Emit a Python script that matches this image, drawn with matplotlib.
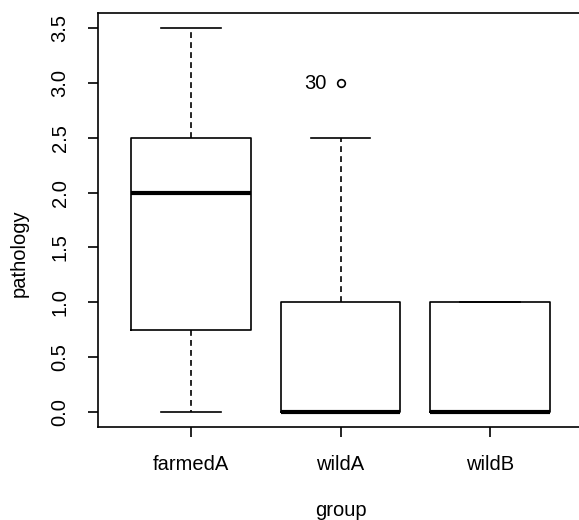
import matplotlib
matplotlib.use("Agg")
import matplotlib.pyplot as plt

plt.rcParams['font.family'] = ['Liberation Sans', 'DejaVu Sans']

groups = ["farmedA", "wildA", "wildB"]
whislo = [0.0, 0.0, 0.0]
q1 = [0.75, 0.0, 0.0]
med = [2.0, 0.0, 0.0]
q3 = [2.5, 1.0, 1.0]
whishi = [3.5, 2.5, 1.0]
fliers = [[], [3.0], []]
flier_labels = [[], ["30"], []]

stats = []
for i in range(len(groups)):
    stats.append(dict(label=groups[i], whislo=whislo[i], q1=q1[i], med=med[i],
                      q3=q3[i], whishi=whishi[i], fliers=fliers[i]))

W, H = 579, 520
fig = plt.figure(figsize=(W/100, H/100), dpi=100)
ax = fig.add_axes([98/W, 1-427/H, (583-98)/W, (427-13)/H])

fs = 14.5
lw = 1.2
ax.bxp(stats, positions=[1, 2, 3], widths=0.8,
       boxprops=dict(color='black', linewidth=lw),
       medianprops=dict(color='black', linewidth=3, solid_capstyle='butt'),
       whiskerprops=dict(color='black', linewidth=lw, linestyle=(0, (3.5, 2.5))),
       capprops=dict(color='black', linewidth=lw),
       capwidths=0.4,
       flierprops=dict(marker='o', markerfacecolor='none', markeredgecolor='black',
                       markersize=5.5, markeredgewidth=1.2))

for i in range(len(groups)):
    for v, lab in zip(fliers[i], flier_labels[i]):
        ax.text(i + 1 - 0.09, v, lab, ha='right', va='center', fontsize=fs)

ax.set_xlim(0.38, 3.62)
ax.set_ylim(-0.14, 3.64)
ax.set_yticks([0, 0.5, 1.0, 1.5, 2.0, 2.5, 3.0, 3.5])
ax.set_yticklabels(["0.0", "0.5", "1.0", "1.5", "2.0", "2.5", "3.0", "3.5"],
                   rotation=90, va='center')
ax.set_xticks([1, 2, 3])
ax.set_xticklabels(groups)
ax.tick_params(axis='both', direction='out', length=7.5, width=lw, labelsize=fs)
ax.tick_params(axis='y', pad=13)
ax.tick_params(axis='x', pad=13)
for s in ax.spines.values():
    s.set_linewidth(lw)

fig.text(19/W, 1-253/H, "pathology", rotation=90, ha='center', va='center', fontsize=fs)
fig.text(341/W, 1-511/H, "group", ha='center', va='center', fontsize=fs)

fig.savefig("out.png", dpi=100)
